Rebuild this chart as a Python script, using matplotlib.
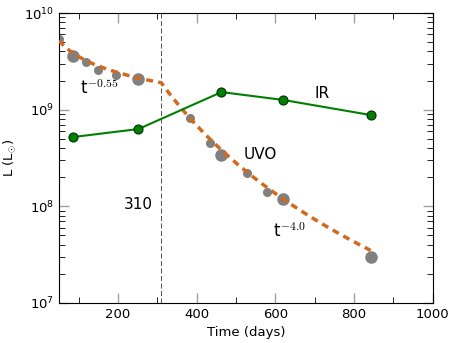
import matplotlib
matplotlib.use("Agg")
import matplotlib.pyplot as plt
import numpy as np

plt.rcParams["mathtext.fontset"] = "cm"

# UVO photometry (grey): large and small points
uvo_big_t = [85, 252, 463, 620, 842]
uvo_big_L = [3.6e9, 2.08e9, 3.4e8, 1.19e8, 3.0e7]
uvo_small_t = [50, 118, 149, 194, 384, 435, 528, 579]
uvo_small_L = [5.4e9, 3.1e9, 2.6e9, 2.3e9, 8.2e8, 4.5e8, 2.2e8, 1.4e8]

# IR luminosity (green)
ir_t = [85, 252, 463, 620, 842]
ir_L = [5.2e8, 6.3e8, 1.52e9, 1.26e9, 8.8e8]

# broken power-law fit shown in the chart
t_break = 310
L_break = 1.9e9
slope_early = -0.55
slope_late = -4.0
fit_start, fit_end = 50, 842

fig = plt.figure(figsize=(4.57, 3.43), dpi=100)
ax = fig.add_axes([0.129, 0.117, 0.818, 0.845])

t_fit = np.linspace(fit_start, fit_end, 400)
L_fit = np.where(t_fit < t_break,
                 L_break * (t_fit / t_break) ** slope_early,
                 L_break * (t_fit / t_break) ** slope_late)

ax.plot(uvo_small_t, uvo_small_L, "o", color="#808080", ms=5.5, mec="#808080", zorder=2)
ax.plot(uvo_big_t, uvo_big_L, "o", color="#808080", ms=8, mec="#808080", zorder=2)
ax.plot(t_fit, L_fit, "--", color="#d2691e", lw=2.5, dashes=(2, 1.5), zorder=3)
ax.plot(ir_t, ir_L, "-o", color="green", lw=1.5, ms=6.5, mec="#003000", mew=0.8, zorder=4)
ax.axvline(t_break, color="#333333", ls="--", lw=0.6, dashes=(6, 3))

ax.text(103, 1.68e9, "t$^{-0.55}$", fontsize=12, va="center")
ax.text(700, 1.48e9, "IR", fontsize=11, va="center")
ax.text(520, 3.4e8, "UVO", fontsize=11, va="center")
ax.text(594, 5.4e7, "t$^{-4.0}$", fontsize=12, va="center")
ax.text(288, 1.05e8, "310", fontsize=11, va="center", ha="right")

ax.set_yscale("log")
ax.set_xlim(50, 1000)
ax.set_ylim(1e7, 1e10)
ax.set_xticks([200, 400, 600, 800, 1000])
ax.set_xticks([100, 300, 500, 700, 900], minor=True)
ax.tick_params(which="both", direction="in", top=True, right=True, labelsize=9.5)
ax.tick_params(which="major", length=7, color="#a0a0a0", width=1)
ax.tick_params(which="minor", length=4, color="black", width=0.6)
ax.set_xlabel("Time (days)", fontsize=9.5)
ax.set_ylabel(r"L (L$_{\odot}$)", fontsize=9.5)

fig.savefig("out.png", dpi=100)
